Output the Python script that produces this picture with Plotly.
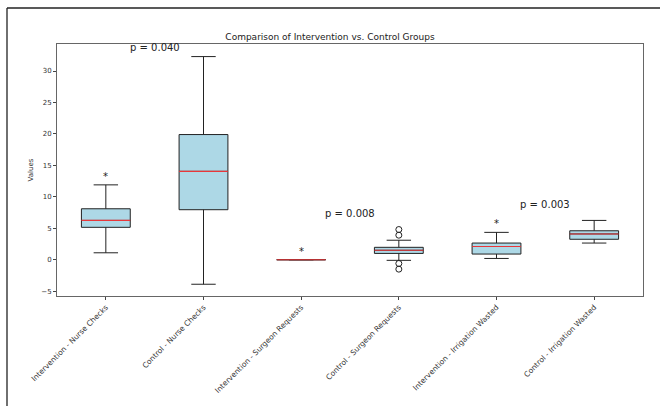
import plotly.graph_objects as go

categories = ["Intervention - Nurse Checks", "Control - Nurse Checks",
              "Intervention - Surgeon Requests", "Control - Surgeon Requests",
              "Intervention - Irrigation Wasted", "Control - Irrigation Wasted"]
q1 = [5.15, 7.95, 0.0, 1.0, 0.9, 3.25]
median = [6.25, 14.05, 0.0, 1.5, 2.1, 4.1]
q3 = [8.1, 19.9, 0.0, 1.97, 2.65, 4.6]
lower_whisker = [1.1, -3.9, 0.0, -0.1, 0.2, 2.65]
upper_whisker = [11.9, 32.3, 0.0, 3.1, 4.35, 6.25]
outlier_pos = [4, 4, 4, 4]
outlier_vals = [4.8, 3.9, -0.6, -1.5]
star_pos = [1, 3, 5]
star_y = [13.2, 1.3, 5.8]
pval_pos = [1.5, 3.5, 5.5]
pval_y = [33.8, 7.4, 8.85]
pval_text = ["p = 0.040", "p = 0.008", "p = 0.003"]
yticks = [-5, 0, 5, 10, 15, 20, 25, 30]

FONT = "DejaVu Sans"
positions = list(range(1, len(categories) + 1))
BW = 0.5

fig = go.Figure()
for i, p in enumerate(positions):
    fig.add_trace(go.Box(
        x=[p], q1=[q1[i]], median=[median[i]], q3=[q3[i]],
        lowerfence=[lower_whisker[i]], upperfence=[upper_whisker[i]],
        width=BW, whiskerwidth=0.5, fillcolor="#ADD8E6",
        line=dict(color="#222222", width=1), boxpoints=False,
        showlegend=False, hoverinfo="skip"))

# red median lines
mx, my = [], []
for i, p in enumerate(positions):
    mx += [p - BW / 2, p + BW / 2, None]
    my += [median[i], median[i], None]
fig.add_trace(go.Scatter(x=mx, y=my, mode="lines",
                         line=dict(color="#E8373A", width=1.1),
                         showlegend=False, hoverinfo="skip"))

fig.add_trace(go.Scatter(x=outlier_pos, y=outlier_vals, mode="markers",
                         marker=dict(symbol="circle-open", size=6, color="#222222",
                                     line=dict(width=1)),
                         showlegend=False, hoverinfo="skip"))

for x, y in zip(star_pos, star_y):
    fig.add_annotation(x=x, y=y, text="*", showarrow=False,
                       font=dict(family=FONT, size=10, color="#222222"))
for x, y, t in zip(pval_pos, pval_y, pval_text):
    fig.add_annotation(x=x, y=y, text=t, showarrow=False,
                       font=dict(family=FONT, size=10, color="#222222"))

L, R, T, B = 57, 17, 44, 110
W, H = 660, 406
pw, ph = W - L - R, H - T - B
def px(x): return (x - L) / pw
def py(y): return (H - B - y) / ph

# outer frame (top and left)
fig.add_shape(type="line", xref="paper", yref="paper", x0=px(7), x1=px(661),
              y0=py(8), y1=py(8), line=dict(color="#222222", width=1.3))
fig.add_shape(type="line", xref="paper", yref="paper", x0=px(7), x1=px(7),
              y0=py(8), y1=py(407), line=dict(color="#222222", width=1.3))

fig.update_layout(
    width=W, height=H, margin=dict(l=L, r=R, t=T, b=B),
    plot_bgcolor="white", paper_bgcolor="white",
    title=dict(text="Comparison of Intervention vs. Control Groups",
               x=px(350), xanchor="center", y=1 - 37 / H, yanchor="middle",
               font=dict(family=FONT, size=9, color="#222222")),
    font=dict(family=FONT, size=7, color="#333333"),
    xaxis=dict(range=[0.5, 6.5], tickvals=positions, ticktext=categories,
               tickangle=-45, showline=True, mirror=True, linecolor="#666666",
               linewidth=1, ticks="outside", ticklen=3, tickcolor="#444444",
               showgrid=False, zeroline=False,
               tickfont=dict(family=FONT, size=7.5, color="#333333")),
    yaxis=dict(range=[-5.77, 34.3], tickvals=yticks, showline=True, mirror=True,
               linecolor="#666666", linewidth=1, ticks="outside", ticklen=3,
               tickcolor="#444444", showgrid=False, zeroline=False,
               title=dict(text="Values", standoff=6,
                          font=dict(family=FONT, size=7, color="#333333")),
               tickfont=dict(family=FONT, size=7, color="#333333")),
)

fig.write_html("out.html", config={"displayModeBar": False},
               post_script="document.body.style.margin='0';document.body.style.overflow='hidden';")
